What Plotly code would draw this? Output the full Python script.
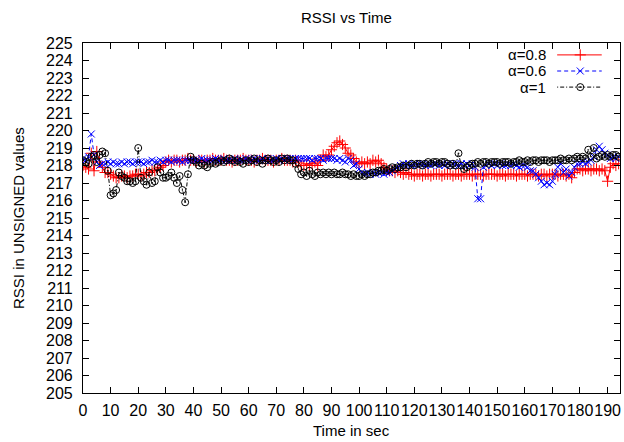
import plotly.graph_objects as go

time_sec = list(range(0, 195))

alpha08 = [
    218.0, 217.9, 217.8, 218.7, 217.7, 218.8, 218.2, 217.9, 217.6, 217.6,
    217.5, 217.4, 217.3, 217.3, 217.4, 217.4, 217.3, 217.4, 217.4, 217.5,
    217.5, 217.4, 217.5, 217.6, 217.6, 217.7, 217.7, 217.8, 217.9, 218.0,
    218.2, 218.3, 218.2, 218.3, 218.3, 218.2, 218.3, 218.3, 218.4, 218.3,
    218.3, 218.2, 218.3, 218.3, 218.2, 218.3, 218.3, 218.4, 218.3, 218.3,
    218.3, 218.4, 218.3, 218.3, 218.2, 218.3, 218.3, 218.3, 218.4, 218.3,
    218.3, 218.3, 218.2, 218.3, 218.3, 218.4, 218.3, 218.3, 218.3, 218.2,
    218.3, 218.3, 218.4, 218.3, 218.3, 218.3, 218.2, 218.3, 218.2, 218.0,
    218.0, 218.1, 218.0, 218.1, 218.2, 218.0, 218.3, 218.6, 218.5, 218.6,
    218.9, 219.1, 219.3, 219.4, 219.2, 219.0, 218.7, 218.6, 218.4, 218.2,
    218.1, 218.2, 218.1, 218.2, 218.1, 218.3, 218.2, 218.3, 218.1, 217.9,
    217.8, 217.7, 217.7, 217.6, 217.7, 217.6, 217.5, 217.6, 217.5, 217.5,
    217.4, 217.5, 217.5, 217.4, 217.5, 217.5, 217.4, 217.5, 217.5, 217.5,
    217.4, 217.5, 217.5, 217.5, 217.4, 217.5, 217.5, 217.4, 217.5, 217.5,
    217.5, 217.4, 217.5, 217.5, 217.5, 217.4, 217.5, 217.5, 217.5, 217.5,
    217.4, 217.5, 217.5, 217.4, 217.5, 217.5, 217.5, 217.4, 217.5, 217.5,
    217.5, 217.4, 217.5, 217.5, 217.5, 217.4, 217.5, 217.5, 217.4, 217.5,
    217.5, 217.5, 217.4, 217.5, 217.5, 217.4, 217.5, 217.3, 217.6, 217.8,
    217.8, 217.7, 217.8, 217.8, 217.7, 217.8, 217.8, 217.7, 217.8, 217.7,
    217.1, 217.9, 218.1, 218.0, 218.1,
]

alpha06 = [
    218.4, 218.3, 218.5, 219.8, 218.6, 218.2, 218.0, 218.1, 218.1, 218.2,
    218.1, 218.2, 218.1, 218.1, 218.2, 218.1, 218.2, 218.2, 218.1, 218.2,
    218.2, 218.2, 218.1, 218.2, 218.2, 218.3, 218.2, 218.2, 218.3, 218.2,
    218.3, 218.3, 218.2, 218.3, 218.3, 218.3, 218.2, 218.3, 218.3, 218.3,
    218.3, 218.3, 218.3, 218.4, 218.3, 218.3, 218.3, 218.3, 218.4, 218.3,
    218.3, 218.4, 218.3, 218.3, 218.3, 218.4, 218.3, 218.3, 218.3, 218.4,
    218.3, 218.3, 218.4, 218.3, 218.3, 218.4, 218.3, 218.4, 218.3, 218.3,
    218.4, 218.3, 218.4, 218.3, 218.4, 218.4, 218.3, 218.4, 218.4, 218.4,
    218.4, 218.4, 218.4, 218.3, 218.4, 218.4, 218.4, 218.3, 218.4, 218.4,
    218.4, 218.4, 218.3, 218.4, 218.3, 218.2, 218.4, 218.3, 218.0, 218.1,
    217.8, 217.6, 217.5, 217.6, 217.5, 217.6, 217.5, 217.6, 217.6, 217.5,
    217.6, 217.6, 217.7, 217.8, 217.9, 218.0, 218.1, 218.0, 218.1, 218.0,
    218.1, 218.0, 218.1, 218.1, 218.0, 218.1, 218.0, 218.1, 218.1, 218.0,
    218.1, 218.0, 218.1, 218.0, 218.1, 218.1, 218.0, 218.1, 218.0, 218.1,
    218.0, 218.1, 217.9, 216.1, 216.1, 217.9, 218.0, 218.1, 218.0, 218.1,
    218.0, 218.1, 218.0, 218.0, 218.1, 218.0, 218.1, 218.0, 217.9, 218.0,
    218.0, 217.9, 217.7, 217.7, 217.5, 217.3, 217.1, 216.9, 217.0, 216.9,
    217.1, 217.5, 217.9, 218.1, 217.6, 217.8, 217.4, 217.6, 217.9, 218.1,
    218.1, 218.2, 218.1, 218.2, 218.3, 218.5, 218.9, 219.1, 218.9, 218.7,
    218.6, 218.4, 218.5, 218.4, 218.5,
]

alpha1 = [
    218.3, 218.2, 218.1, 218.5, 218.6, 218.2, 218.6, 218.8, 218.7, 217.7,
    216.3, 216.4, 216.6, 217.6, 217.4, 217.3, 217.1, 217.1, 217.0, 217.1,
    219.0, 217.3, 217.1, 216.9, 217.6, 217.0, 217.1, 217.9, 217.6, 217.3,
    217.3, 217.4, 217.6, 217.3, 217.0, 217.4, 216.6, 215.9, 217.5, 218.5,
    218.3, 218.2, 218.0, 218.1, 218.0, 217.9, 218.1, 218.2, 218.1, 218.2,
    218.3, 218.2, 218.3, 218.4, 218.3, 218.2, 218.3, 218.2, 218.1, 218.3,
    218.2, 218.3, 218.4, 218.2, 218.3, 218.1, 218.3, 218.4, 218.3, 218.2,
    218.3, 218.2, 218.4, 218.3, 218.4, 218.3, 218.3, 218.1, 217.8, 217.5,
    217.6, 217.4, 217.7, 217.5, 217.4, 217.6, 217.5, 217.6, 217.5, 217.6,
    217.5, 217.6, 217.5, 217.5, 217.6, 217.5, 217.5, 217.4, 217.5, 217.4,
    217.4, 217.5, 217.4, 217.5, 217.5, 217.6, 217.6, 217.7, 217.7, 217.8,
    217.7, 217.8, 217.9, 217.8, 217.9, 217.9, 218.0, 217.9, 218.0, 218.1,
    218.0, 218.1, 218.1, 218.0, 218.1, 218.2, 218.1, 218.2, 218.2, 218.1,
    218.2, 218.2, 218.1, 218.0, 218.1, 218.0, 218.7, 218.0, 217.8, 217.9,
    218.0, 218.1, 218.1, 218.2, 218.1, 218.2, 218.2, 218.1, 218.2, 218.2,
    218.2, 218.1, 218.2, 218.2, 218.2, 218.1, 218.2, 218.2, 218.3, 218.2,
    218.2, 218.3, 218.2, 218.3, 218.3, 218.2, 218.3, 218.3, 218.3, 218.2,
    218.3, 218.3, 218.3, 218.4, 218.3, 218.3, 218.4, 218.3, 218.4, 218.5,
    218.4, 218.5, 218.4, 218.9, 218.5, 219.0, 218.4, 218.5, 218.6, 218.5,
    218.6, 218.5, 218.6, 218.6, 218.5,
]

series_names = ["\u03b1=0.8", "\u03b1=0.6", "\u03b1=1"]
x_ticks = list(range(0, 200, 10))
y_ticks = list(range(205, 226, 1))

FONT = "Liberation Sans, Arial, Helvetica, sans-serif"
FS = 15
TFS = 16
W, H = 624, 442
L, R, T, B = 83, 4, 43, 49
PW = W - L - R
PH = H - T - B

styles = [
    dict(color="#ff0000", dash="solid", symbol="cross-thin-open", size=8),
    dict(color="#0000ff", dash="4px,3px", symbol="x-thin-open", size=7),
    dict(color="#000000", dash="1px,2px,4px,2px", symbol="circle-open-dot", size=7),
]

fig = go.Figure()
for name, vals, st in zip(series_names, [alpha08, alpha06, alpha1], styles):
    fig.add_trace(go.Scatter(
        x=time_sec, y=vals, mode="lines+markers", name=name,
        line=dict(color=st["color"], width=1, dash=st["dash"]),
        marker=dict(symbol=st["symbol"], size=st["size"], color=st["color"],
                    line=dict(color=st["color"], width=1)),
        showlegend=False,
    ))

# key drawn gnuplot-style: text on the left, sample on the right
key_rows = [0.966, 0.920, 0.874]
for name, st, ky in zip(series_names, styles, key_rows):
    fig.add_trace(go.Scatter(
        x=[0.883, 0.966], y=[ky, ky], xaxis="x2", yaxis="y2", mode="lines",
        line=dict(color=st["color"], width=1, dash=st["dash"]),
        showlegend=False, hoverinfo="skip",
    ))
    fig.add_trace(go.Scatter(
        x=[0.926], y=[ky], xaxis="x2", yaxis="y2", mode="markers",
        marker=dict(symbol=st["symbol"], size=st["size"], color=st["color"],
                    line=dict(color=st["color"], width=1)),
        showlegend=False, hoverinfo="skip",
    ))
    fig.add_annotation(x=0.866, y=ky, xref="paper", yref="paper", text=name,
                       showarrow=False, xanchor="right", yanchor="middle",
                       font=dict(family=FONT, size=FS, color="black"))

axis_common = dict(
    showline=True, linecolor="black", linewidth=1.2, mirror="allticks",
    ticks="inside", ticklen=6, tickwidth=1, tickcolor="black",
    showgrid=False, zeroline=False, tickangle=0,
    tickfont=dict(family=FONT, size=TFS, color="black"),
)

fig.update_layout(
    width=W, height=H,
    margin=dict(l=L, r=R, t=T, b=B, pad=0),
    paper_bgcolor="white", plot_bgcolor="white",
    showlegend=False,
    xaxis=dict(range=[0, 194.5], tickmode="array", tickvals=x_ticks,
               ticktext=[str(v) for v in x_ticks], ticklabelstandoff=3,
               **axis_common),
    yaxis=dict(range=[205, 225], tickmode="array", tickvals=y_ticks,
               ticktext=[str(v) for v in y_ticks], ticklabelstandoff=6,
               **axis_common),
    xaxis2=dict(range=[0, 1], overlaying="x", visible=False, fixedrange=True),
    yaxis2=dict(range=[0, 1], overlaying="y", visible=False, fixedrange=True),
)

fig.add_annotation(x=0.49, y=1 + 26 / PH, xref="paper", yref="paper",
                   text="RSSI vs Time", showarrow=False, yanchor="middle",
                   font=dict(family=FONT, size=FS, color="black"))
fig.add_annotation(x=0.5, y=-37 / PH, xref="paper", yref="paper",
                   text="Time in sec", showarrow=False, yanchor="middle",
                   font=dict(family=FONT, size=FS, color="black"))
fig.add_annotation(x=-65 / PW, y=0.5, xref="paper", yref="paper",
                   text="RSSI in UNSIGNED values", showarrow=False,
                   textangle=-90, xanchor="center", yanchor="middle",
                   font=dict(family=FONT, size=FS, color="black"))

fig.write_html(
    "out.html",
    config={"displayModeBar": False},
    post_script="document.body.style.margin='0';document.body.style.overflow='hidden';",
)
